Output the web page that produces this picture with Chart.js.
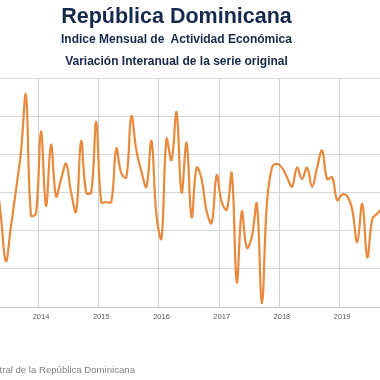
<!DOCTYPE html>
<html>
<head>
<meta charset="utf-8">
<script src="https://cdn.jsdelivr.net/npm/chart.js@4"></script>
<style>
  html, body { margin:0; padding:0; background:#fff; }
  #wrap { position:relative; width:380px; height:380px; overflow:hidden; }
  canvas { position:absolute; left:0; top:0; }
  .t { position:absolute; left:0; width:353px; text-align:center; white-space:nowrap;
       font-family:"Liberation Sans", Arial, sans-serif; font-weight:bold; color:#15294b; }
  #t1 { top:4.5px; font-size:21.5px; line-height:22px; }
  #t2 { top:32.5px; font-size:12px; line-height:12px; }
  #t3 { top:55px; font-size:12px; line-height:12px; }
  #src { position:absolute; right:245px; top:365px; font-family:"Liberation Sans", Arial, sans-serif;
         font-size:9.6px; line-height:10px; color:#808080; white-space:nowrap; text-align:right; }
</style>
</head>
<body>
<div id="wrap">
  <canvas id="c" width="380" height="380"></canvas>
  <div class="t" id="t1">República Dominicana</div>
  <div class="t" id="t2">Indice Mensual de&nbsp; Actividad Económica</div>
  <div class="t" id="t3">Variación Interanual de la serie original</div>
  <div id="src">Fuente: Banco Central de la República Dominicana</div>
</div>
<script>
// Months (YYYY-MM) of the series
const months = [
  '2013-04','2013-05','2013-06','2013-07','2013-08','2013-09','2013-10','2013-11','2013-12',
  '2014-01','2014-02','2014-03','2014-04','2014-05','2014-06','2014-07','2014-08','2014-09','2014-10','2014-11','2014-12',
  '2015-01','2015-02','2015-03','2015-04','2015-05','2015-06','2015-07','2015-08','2015-09','2015-10','2015-11','2015-12',
  '2016-01','2016-02','2016-03','2016-04','2016-05','2016-06','2016-07','2016-08','2016-09','2016-10','2016-11','2016-12',
  '2017-01','2017-02','2017-03','2017-04','2017-05','2017-06','2017-07','2017-08','2017-09','2017-10','2017-11','2017-12',
  '2018-01','2018-02','2018-03','2018-04','2018-05','2018-06','2018-07','2018-08','2018-09','2018-10','2018-11','2018-12',
  '2019-01','2019-02','2019-03','2019-04','2019-05','2019-06','2019-07','2019-08','2019-09'
];
// Variación interanual (%)
const imaeValues = [
  7.2, 4.8, 2.4, 4.2, 6.1, 8.1, 11.1, 4.8, 4.9,
  9.2, 5.3, 8.5, 5.8, 6.7, 7.5, 6.0, 5.0, 8.7, 6.0, 6.0, 9.7,
  5.5, 5.5, 5.5, 8.3, 7.0, 6.8, 10.0, 8.2, 7.1, 6.3, 8.7, 4.8,
  3.6, 8.8, 7.7, 10.2, 6.0, 8.6, 4.7, 7.3, 6.7, 5.0, 4.4, 6.9,
  5.5, 5.1, 7.0, 1.3, 5.0, 3.1, 3.7, 5.4, 0.2, 5.4, 7.3, 7.5,
  7.3, 6.8, 6.3, 7.3, 6.7, 7.3, 6.3, 7.3, 8.2, 6.7, 6.8, 5.6,
  5.9, 5.8, 5.1, 3.4, 5.4, 2.6, 4.6, 4.9, 5.2
];
const yearLabels = ['2014','2015','2016','2017','2018','2019'];
const baseYear = 2014;

function monthIndex(s) {
  const [y, m] = s.split('-').map(Number);
  return (y - baseYear) * 12 + (m - 1);
}
const points = months.map((s, i) => ({ x: monthIndex(s), y: imaeValues[i] }));

new Chart(document.getElementById('c'), {
  type: 'line',
  data: {
    datasets: [{
      data: points,
      borderColor: '#e8893c',
      borderWidth: 2.2,
      pointRadius: 0,
      tension: 0.4,
      fill: false
    }]
  },
  options: {
    responsive: false,
    animation: false,
    devicePixelRatio: 1,
    layout: { padding: { top: 78, left: 0, right: 0, bottom: 53 } },
    plugins: { legend: { display: false }, tooltip: { enabled: false }, title: { display: false } },
    scales: {
      x: {
        type: 'linear',
        min: -41 / 5.02,
        max: (380 - 41) / 5.02,
        afterBuildTicks: (scale) => {
          scale.ticks = yearLabels.map((y, k) => ({ value: 12 * k - 0.5 }));
        },
        afterFit: (scale) => { scale.height = 20; },
        ticks: {
          callback: (v, i) => yearLabels[i],
          labelOffset: 2.5,
          padding: 5,
          maxRotation: 0,
          autoSkip: false,
          color: '#595959',
          font: { family: 'Liberation Sans', size: 7.5 }
        },
        grid: { color: '#d0d0d0', lineWidth: 1, drawTicks: false },
        border: { color: '#c4c4c4', width: 1 }
      },
      y: {
        min: 0,
        max: 12,
        ticks: { display: false, stepSize: 2 },
        grid: { color: '#d6d6d6', lineWidth: 1, drawTicks: false },
        border: { display: false }
      }
    }
  }
});
</script>
</body>
</html>
